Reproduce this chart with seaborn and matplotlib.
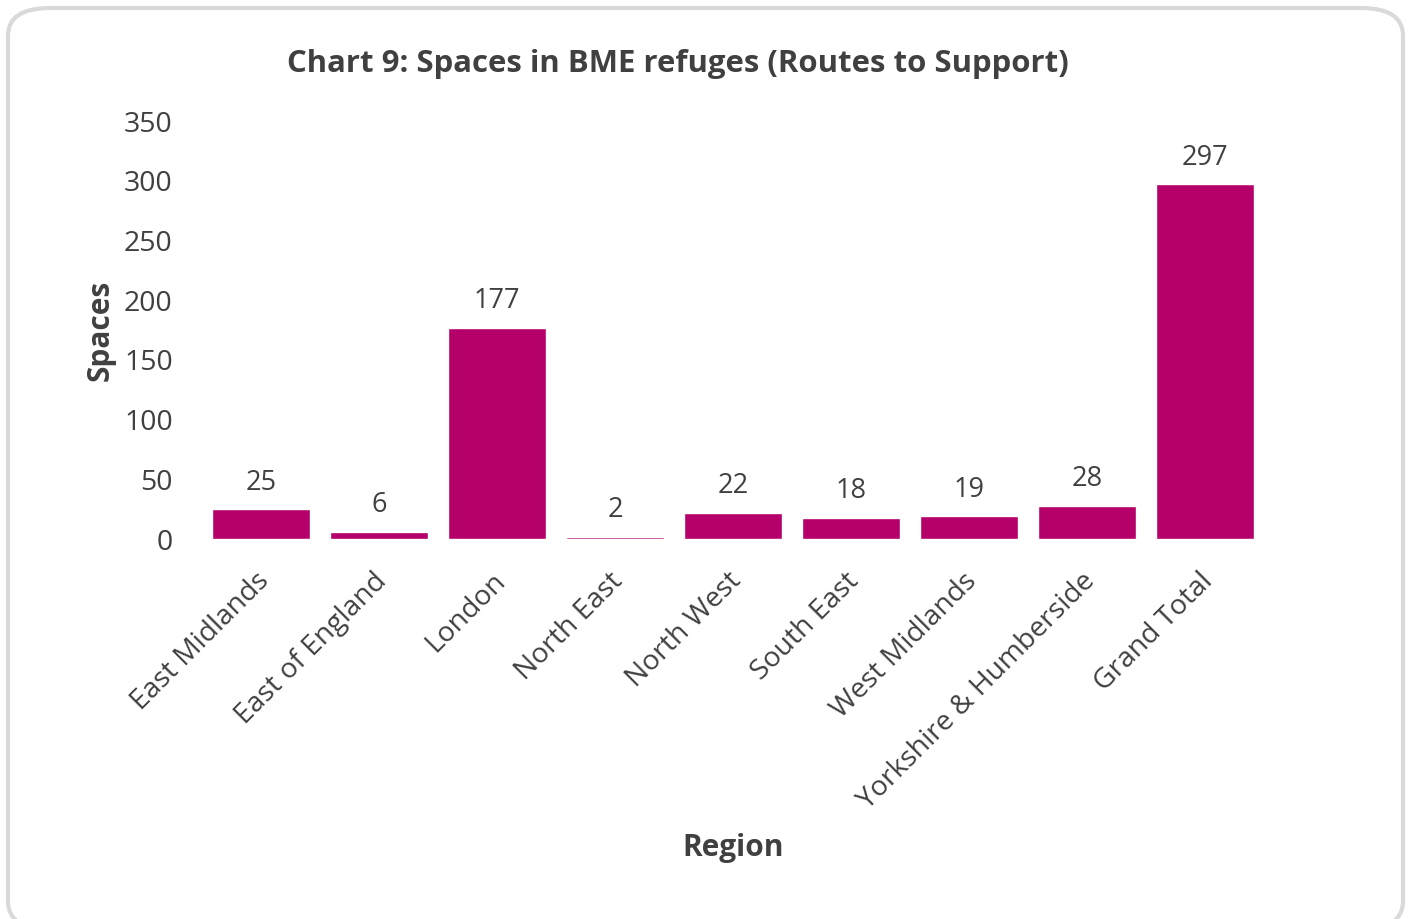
import matplotlib
matplotlib.use("Agg")
import matplotlib.pyplot as plt
import matplotlib.transforms as mtransforms
from matplotlib.patches import FancyBboxPatch
import pandas as pd
import seaborn as sns

# Chart data
regions = ["East Midlands", "East of England", "London", "North East", "North West",
           "South East", "West Midlands", "Yorkshire & Humberside", "Grand Total"]
spaces = [25, 6, 177, 2, 22, 18, 19, 28, 297]
y_ticks = [0, 50, 100, 150, 200, 250, 300, 350]

df = pd.DataFrame({"Region": regions, "Spaces": spaces})

sns.set_style("white")
plt.rcParams["font.family"] = ["Open Sans", "DejaVu Sans"]
text_col = "#404040"
bar_col = "#b5006a"

fig = plt.figure(figsize=(14.1, 9.19), dpi=100)
ax = fig.add_axes([202 / 1410, 1 - 539 / 919, (1264 - 202) / 1410, (539 - 121) / 919])

sns.barplot(data=df, x="Region", y="Spaces", color=bar_col, width=0.83,
            saturation=1, ax=ax)

for i, v in enumerate(spaces):
    ax.annotate(str(v), (i, v), xytext=(0, 19), textcoords="offset points",
                ha="center", va="center", fontsize=19.5, color=text_col)

ax.set_ylim(0, 350)
ax.set_yticks(y_ticks)
ax.set_yticklabels([str(t) for t in y_ticks], fontsize=20.5, color=text_col)
ax.set_xticks(range(len(regions)))
ax.set_xticklabels(regions, rotation=45, ha="right", rotation_mode="anchor",
                   fontsize=20.3, color=text_col)
ax.tick_params(axis="y", length=0, pad=21)
ax.tick_params(axis="x", length=0, pad=20.5)
# nudge rotated labels slightly left
shift = mtransforms.ScaledTranslation(-6 / 100, 0, fig.dpi_scale_trans)
for lbl in ax.get_xticklabels():
    lbl.set_transform(lbl.get_transform() + shift)
for s in ax.spines.values():
    s.set_visible(False)

ax.set_xlabel("Region", fontsize=21.5, fontweight="bold", color=text_col, labelpad=13)
ax.set_ylabel("Spaces", fontsize=21.5, fontweight="bold", color=text_col, labelpad=6)

fig.text(678 / 1410, 1 - 64 / 919, "Chart 9: Spaces in BME refuges (Routes to Support)",
         ha="center", va="center", fontsize=22.4, fontweight="bold", color=text_col)

# rounded chart border
border = FancyBboxPatch((8 / 1410, -10 / 919), 1395 / 1410, 921 / 919,
                        boxstyle="round,pad=0,rounding_size=0.03",
                        transform=fig.transFigure, facecolor="none",
                        edgecolor="#d9d9d9", linewidth=3, clip_on=False)
fig.patches.append(border)

fig.savefig("out.png", dpi=100)
